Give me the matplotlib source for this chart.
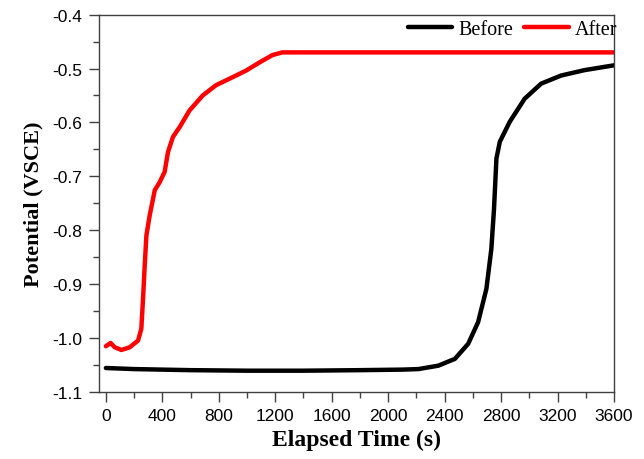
import numpy as np
import matplotlib.pyplot as plt
from matplotlib.ticker import MultipleLocator

# values
t_before = [0, 200, 600, 1000, 1400, 1800, 2100, 2214, 2355, 2473, 2567, 2637, 2696,
            2731, 2750, 2767, 2791, 2861, 2967, 3084, 3225, 3390, 3600]
v_before = [-1.056, -1.058, -1.060, -1.061, -1.061, -1.060, -1.059, -1.058, -1.0517,
            -1.039, -1.011, -0.971, -0.909, -0.835, -0.760, -0.667, -0.636, -0.599,
            -0.556, -0.528, -0.513, -0.503, -0.494]

t_after = [0, 33, 63, 110, 169, 228, 251, 263, 275, 287, 310, 346, 381, 416, 440, 475,
           522, 592, 686, 780, 898, 992, 1086, 1180, 1250, 2000, 3000, 3600]
v_after = [-1.0156, -1.0095, -1.0175, -1.0225, -1.0175, -1.005, -0.983, -0.928, -0.866,
           -0.810, -0.773, -0.726, -0.711, -0.692, -0.655, -0.627, -0.609, -0.578,
           -0.550, -0.531, -0.516, -0.504, -0.489, -0.475, -0.470, -0.470, -0.470, -0.470]

fig = plt.figure(figsize=(6.44, 4.60), dpi=100)
ax = fig.add_axes([0.1537, 0.1463, 0.7997, 0.8196])

ax.plot(t_before, v_before, color='black', lw=3.2, label='Before',
        solid_capstyle='round', solid_joinstyle='round')
ax.plot(t_after, v_after, color='#ff0000', lw=3.2, label='After',
        solid_capstyle='round', solid_joinstyle='round')

ax.set_xlim(-49, 3600)
ax.set_ylim(-1.1, -0.4)
ax.xaxis.set_major_locator(MultipleLocator(400))
ax.xaxis.set_minor_locator(MultipleLocator(200))
ax.yaxis.set_major_locator(MultipleLocator(0.1))
ax.yaxis.set_minor_locator(MultipleLocator(0.05))
ax.yaxis.set_major_formatter(plt.FuncFormatter(lambda v, p: f'{v:.1f}'))

ax.tick_params(which='major', direction='out', length=7, width=1, color='#404040',
               labelsize=12.5, pad=5)
ax.tick_params(which='minor', direction='out', length=4, width=1, color='#404040')
for lab in ax.get_xticklabels() + ax.get_yticklabels():
    lab.set_fontfamily('Liberation Sans')
for s in ax.spines.values():
    s.set_color('#404040')
    s.set_linewidth(1)

ax.set_xlabel('Elapsed Time (s)', fontfamily='Liberation Serif', fontweight='bold',
              fontsize=17, labelpad=4)
ax.set_ylabel('Potential (VSCE)', fontfamily='Liberation Serif', fontweight='bold',
              fontsize=16, labelpad=6)

ax.legend(loc='upper right', ncol=2, frameon=False, handlelength=2.2,
          columnspacing=0.55, handletextpad=0.3, borderaxespad=0.0,
          bbox_to_anchor=(1.022, 1.008),
          prop={'family': 'Liberation Serif', 'size': 14.5})

fig.savefig('out.png', dpi=100)
